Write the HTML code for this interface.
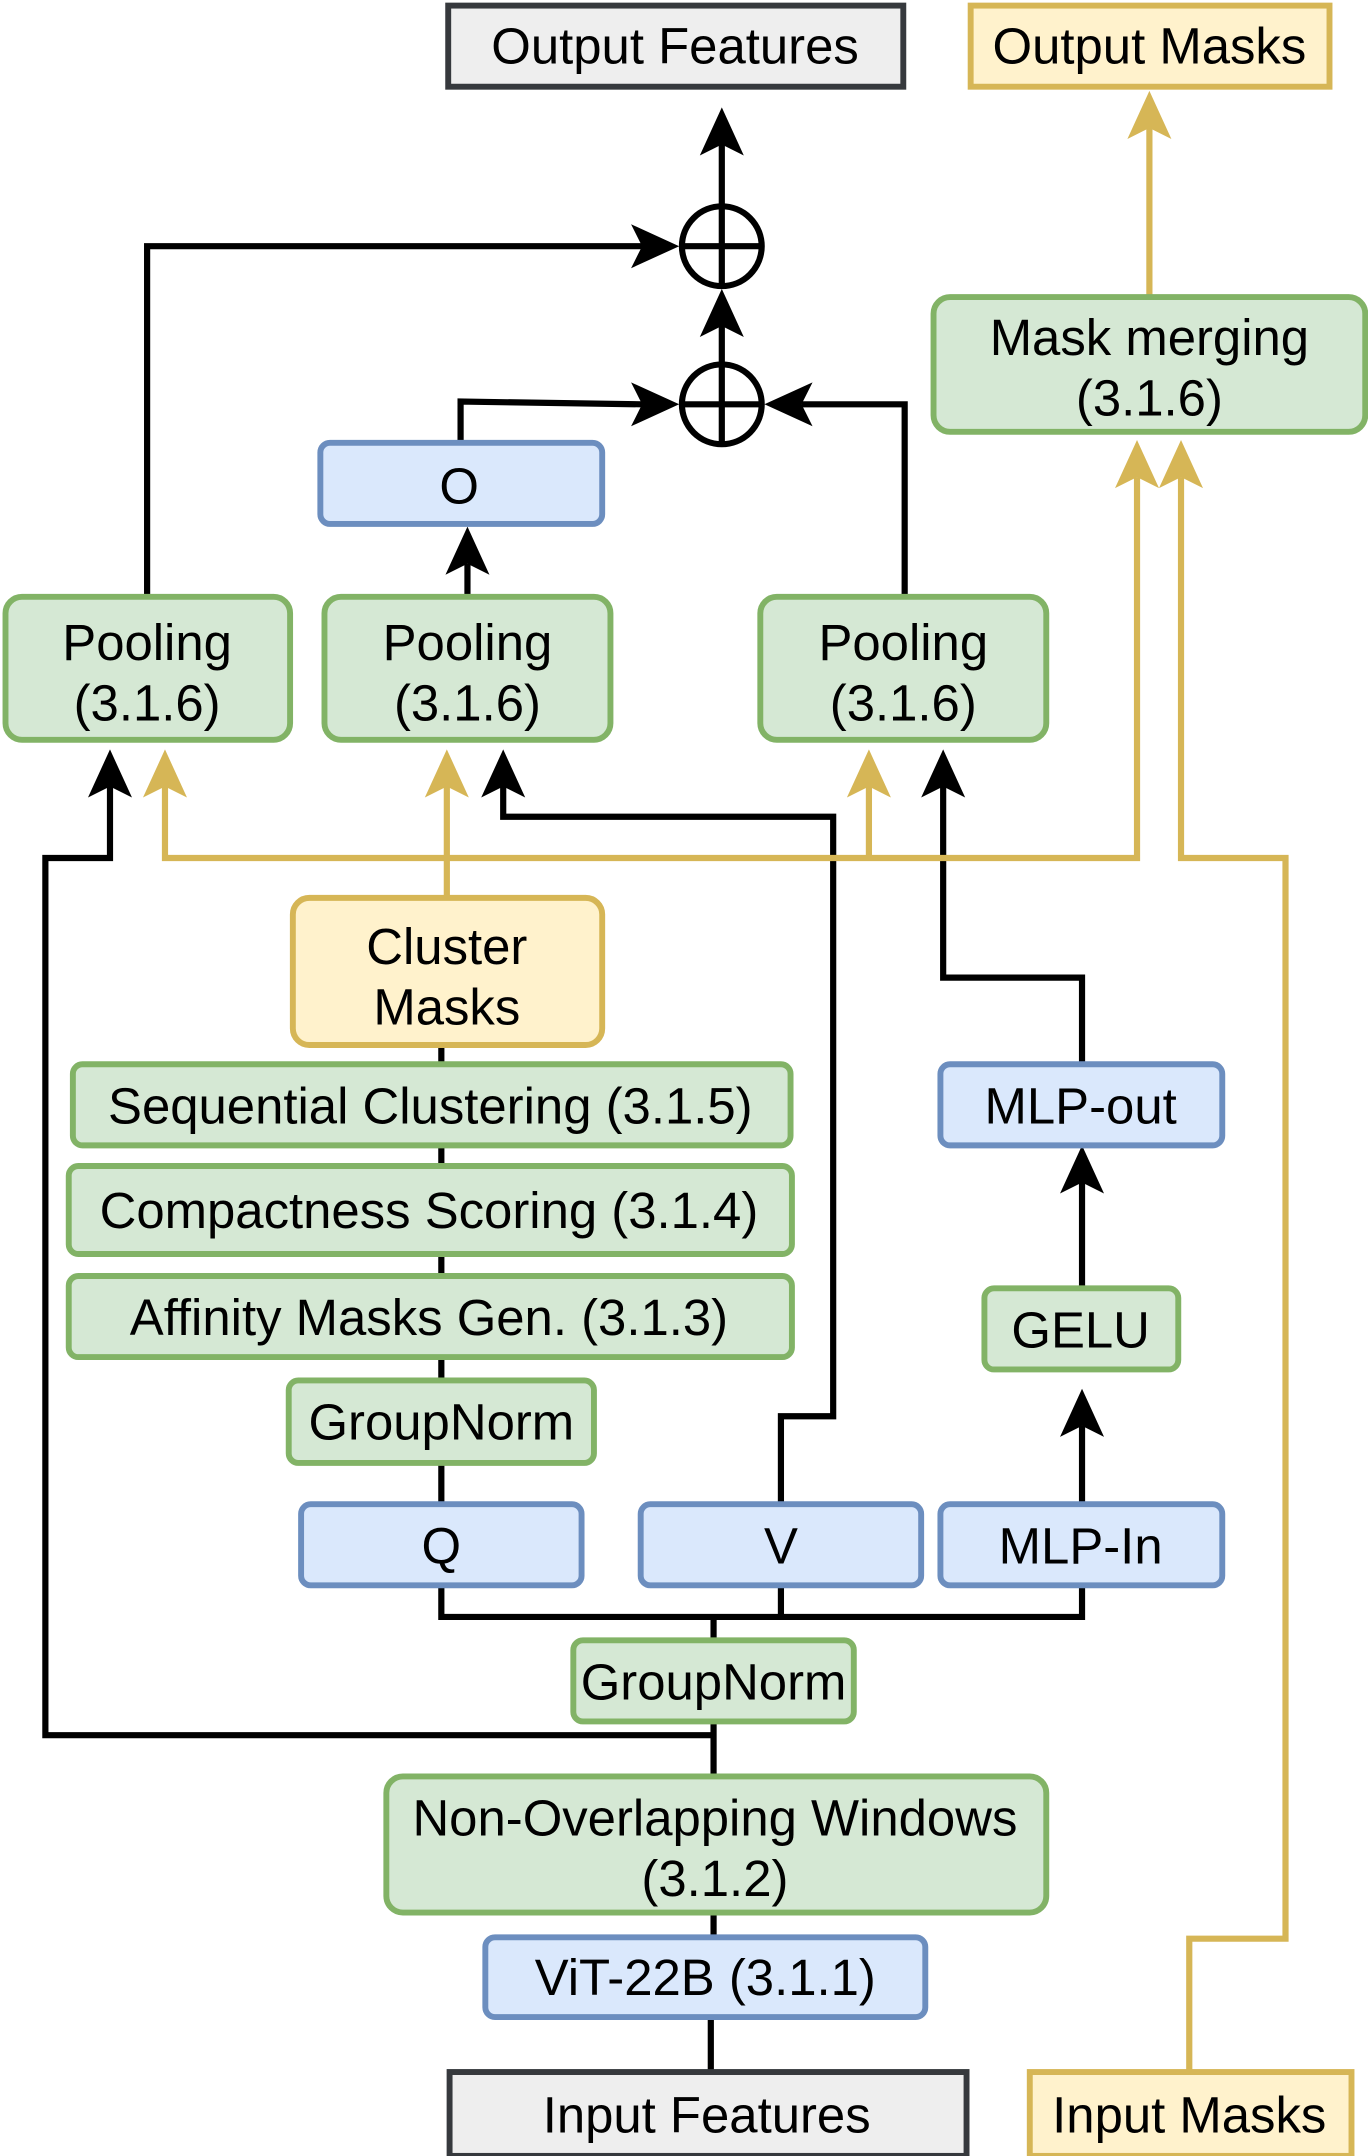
<!DOCTYPE html>
<html><head><meta charset="utf-8"><style>html,body{margin:0;padding:0;background:#fff}svg{display:block}</style></head>
<body>
<svg width="1368" height="2156" viewBox="0 0 995 1568" xmlns="http://www.w3.org/2000/svg" font-family="Liberation Sans, sans-serif" font-size="37" text-anchor="middle">
<g fill="none" stroke="#000" stroke-width="4.5">
<polyline points="525,150 525,104"/>
<polyline points="525,264 525,236"/>
<polyline points="107,434 107,179 467,179"/>
<polyline points="335,322 335,292 467,294"/>
<polyline points="658,434 658,294 583,294"/>
<polyline points="340,434 340,410"/>
<polyline points="321,760 321,1094"/>
<polyline points="321,1153 321,1176 787,1176 787,1153"/>
<polyline points="568,1153 568,1176"/>
<polyline points="519,1176 519,1193"/>
<polyline points="519,1252 519,1292"/>
<polyline points="519,1262 33,1262 33,624 80,624 80,572"/>
<polyline points="568,1094 568,1030 606,1030 606,594 366,594 366,572"/>
<polyline points="787,1094 787,1037"/>
<polyline points="787,937 787,860"/>
<polyline points="787,774 787,711 686,711 686,572"/>
<polyline points="519,1391 519,1409"/>
<polyline points="517,1467 517,1507"/>
</g>
<g fill="none" stroke="#d6b656" stroke-width="4.5">
<polyline points="836,216 836,93"/>
<polyline points="827,347 827,624 120,624 120,572"/>
<polyline points="632,624 632,572"/>
<polyline points="325,653 325,572"/>
<polyline points="859,347 859,624 935,624 935,1410 865,1410 865,1507"/>
</g>
<g fill="#000">
<polygon points="525,78 541,113 525,105 509,113"/>
<polygon points="525,210 541,245 525,237 509,245"/>
<polygon points="494,179 459,163 467,179 459,195"/>
<polygon points="494,294 459,278 467,294 459,310"/>
<polygon points="556,294 591,278 583,294 591,310"/>
<polygon points="340,383 356,418 340,410 324,418"/>
<polygon points="80,545 96,580 80,572 64,580"/>
<polygon points="366,545 382,580 366,572 350,580"/>
<polygon points="686,545 702,580 686,572 670,580"/>
<polygon points="787,1010 803,1045 787,1037 771,1045"/>
<polygon points="787,833 803,868 787,860 771,868"/>
</g>
<g fill="#d6b656">
<polygon points="836,66 852,101 836,93 820,101"/>
<polygon points="827,320 843,355 827,347 811,355"/>
<polygon points="859,320 875,355 859,347 843,355"/>
<polygon points="120,545 136,580 120,572 104,580"/>
<polygon points="325,545 341,580 325,572 309,580"/>
<polygon points="632,545 648,580 632,572 616,580"/>
</g>
<g fill="none" stroke="#000" stroke-width="4.5">
<circle cx="525" cy="179" r="29"/><line x1="496" y1="179" x2="554" y2="179"/><line x1="525" y1="150" x2="525" y2="208"/>
<circle cx="525" cy="294" r="29"/><line x1="496" y1="294" x2="554" y2="294"/><line x1="525" y1="265" x2="525" y2="323"/>
</g>
<g stroke-width="4.3">
<rect x="326" y="4" width="331" height="59" fill="#eeeeee" stroke="#36393d"/>
<rect x="706" y="4" width="261" height="59" fill="#fff2cc" stroke="#d6b656"/>
<rect x="327" y="1507" width="376" height="61" fill="#eeeeee" stroke="#36393d"/>
<rect x="749" y="1507" width="234" height="61" fill="#fff2cc" stroke="#d6b656"/>
<g fill="#d5e8d4" stroke="#82b366">
<rect x="679" y="216" width="314" height="98" rx="12"/>
<rect x="4" y="434" width="207" height="104" rx="12"/>
<rect x="236" y="434" width="208" height="104" rx="12"/>
<rect x="553" y="434" width="208" height="104" rx="12"/>
<rect x="53" y="774" width="522" height="59" rx="7"/>
<rect x="50" y="848" width="526" height="64" rx="7"/>
<rect x="50" y="928" width="526" height="59" rx="7"/>
<rect x="210" y="1004" width="222" height="60" rx="7"/>
<rect x="716" y="937" width="141" height="59" rx="7"/>
<rect x="417" y="1193" width="204" height="59" rx="7"/>
<rect x="281" y="1292" width="480" height="99" rx="12"/>
</g>
<rect x="213" y="653" width="225" height="107" rx="12" fill="#fff2cc" stroke="#d6b656"/>
<g fill="#dae8fc" stroke="#6c8ebf">
<rect x="233" y="322" width="205" height="59" rx="7"/>
<rect x="219" y="1094" width="204" height="59" rx="7"/>
<rect x="466" y="1094" width="204" height="59" rx="7"/>
<rect x="684" y="1094" width="205" height="59" rx="7"/>
<rect x="684" y="774" width="205" height="59" rx="7"/>
<rect x="353" y="1409" width="320" height="58" rx="7"/>
</g>
</g>
<g fill="#000">
<text x="491" y="46">Output Features</text>
<text x="836" y="46">Output Masks</text>
<text x="836" y="258">Mask merging</text><text x="836" y="302">(3.1.6)</text>
<text x="334" y="366">O</text>
<text x="107" y="480">Pooling</text><text x="107" y="524">(3.1.6)</text>
<text x="340" y="480">Pooling</text><text x="340" y="524">(3.1.6)</text>
<text x="657" y="480">Pooling</text><text x="657" y="524">(3.1.6)</text>
<text x="325" y="701">Cluster</text><text x="325" y="745">Masks</text>
<text x="313" y="817">Sequential Clustering (3.1.5)</text>
<text x="312" y="893">Compactness Scoring (3.1.4)</text>
<text x="312" y="971">Affinity Masks Gen. (3.1.3)</text>
<text x="321" y="1047">GroupNorm</text>
<text x="786" y="817">MLP-out</text>
<text x="786" y="980">GELU</text>
<text x="321" y="1137">Q</text>
<text x="568" y="1137">V</text>
<text x="786" y="1137">MLP-In</text>
<text x="519" y="1236">GroupNorm</text>
<text x="520" y="1335">Non-Overlapping Windows</text><text x="520" y="1379">(3.1.2)</text>
<text x="513" y="1451">ViT-22B (3.1.1)</text>
<text x="514" y="1551">Input Features</text>
<text x="865" y="1551">Input Masks</text>
</g>
</svg>
</body></html>
